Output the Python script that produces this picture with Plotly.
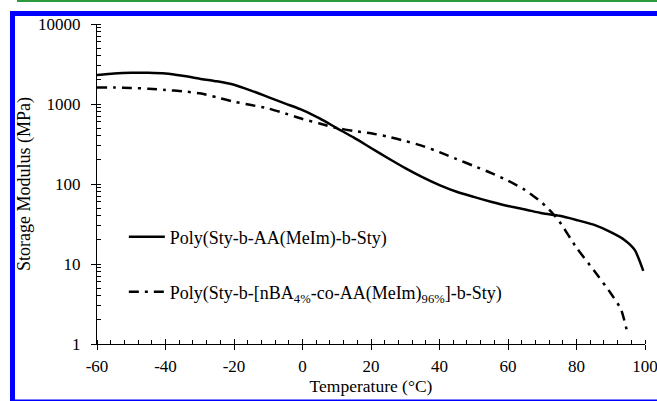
import plotly.graph_objects as go

# Temperature (°C) and storage modulus (MPa)
temp_a = [-60, -55, -50, -45, -40, -35, -30, -25, -20, -15, -10, -5, 0, 5, 10, 15, 20, 25, 30, 35, 40,
          45, 50, 55, 60, 65, 70, 75, 80, 85, 90, 94, 97, 99.5]
mod_a = [2300, 2400, 2450, 2450, 2400, 2250, 2070, 1920, 1740, 1470, 1220, 1010, 840, 660, 500, 380,
         282, 210, 158, 122, 97, 80, 69, 60, 53, 48, 43, 40, 35.5, 31, 25, 20, 15, 8.2]

temp_b = [-60, -55, -50, -45, -40, -35, -30, -25, -20, -15, -10, -5, 0, 5, 10, 15, 20, 25, 30, 35, 40,
          45, 50, 55, 60, 65, 70, 73, 75, 80, 85, 90, 93, 95]
mod_b = [1610, 1610, 1590, 1550, 1500, 1440, 1360, 1210, 1070, 970, 880, 760, 650, 570, 500, 460,
         430, 390, 345, 300, 250, 205, 168, 138, 110, 84, 58, 43, 34, 16, 8.4, 4.3, 2.7, 1.3]

name_a = "Poly(Sty-b-AA(MeIm)-b-Sty)"
name_b = "Poly(Sty-b-[nBA<sub>4%</sub>-co-AA(MeIm)<sub>96%</sub>]-b-Sty)"

x_ticks = [-60, -40, -20, 0, 20, 40, 60, 80, 100]
y_ticks = [1, 10, 100, 1000, 10000]

FONT = "Liberation Serif, serif"

fig = go.Figure()
fig.add_trace(go.Scatter(x=temp_a, y=mod_a, mode="lines", name=name_a,
                         line=dict(color="black", width=2.5, shape="spline", smoothing=0.6),
                         legend="legend"))
fig.add_trace(go.Scatter(x=temp_b, y=mod_b, mode="lines", name=name_b,
                         line=dict(color="black", width=2.5, dash="10px,6px,3px,6px",
                                   shape="spline", smoothing=0.6),
                         legend="legend2"))

# overlay axis for inward halves of major x ticks
fig.add_trace(go.Scatter(x=[None], y=[None], xaxis="x2", showlegend=False))

fig.update_layout(
    width=657, height=401,
    margin=dict(l=97, r=12, t=24, b=57, autoexpand=False),
    paper_bgcolor="white", plot_bgcolor="white",
    font=dict(family=FONT, size=17, color="black"),
    xaxis=dict(range=[-60, 100], tickvals=x_ticks, ticktext=[str(v) for v in x_ticks],
               showline=True, linecolor="black", linewidth=1, showgrid=False, zeroline=False,
               ticks="outside", ticklen=5, tickcolor="black", tickwidth=1, automargin=False,
               ticklabelstandoff=2, ticklabeloverflow="allow",
               minor=dict(ticks="inside", dtick=4, tick0=-60, ticklen=4, tickcolor="black", showgrid=False),
               title=dict(text="Temperature (°C)", standoff=2, font=dict(family=FONT, size=17.5)),
               tickfont=dict(family=FONT, size=17)),
    xaxis2=dict(range=[-60, 100], overlaying="x", side="bottom", tickvals=x_ticks, automargin=False,
                showticklabels=False, ticks="inside", ticklen=5, tickcolor="black",
                showline=False, showgrid=False, zeroline=False),
    yaxis=dict(type="log", range=[0, 4], tickvals=y_ticks, ticktext=[str(v) for v in y_ticks],
               showline=True, linecolor="black", linewidth=1, showgrid=False, zeroline=False,
               ticks="outside", ticklen=5, tickcolor="black", automargin=False,
               ticklabelstandoff=7, ticklabeloverflow="allow",
               minor=dict(ticks="inside", ticklen=4, tickcolor="black", dtick="D1", showgrid=False),
               title=dict(text="Storage Modulus (MPa)", standoff=2, font=dict(family=FONT, size=18)),
               tickfont=dict(family=FONT, size=17)),
    legend=dict(x=0.049, y=0.334, xanchor="left", yanchor="middle", bgcolor="rgba(0,0,0,0)",
                font=dict(family=FONT, size=18), itemwidth=36),
    legend2=dict(x=0.049, y=0.1625, xanchor="left", yanchor="middle", bgcolor="rgba(0,0,0,0)",
                 font=dict(family=FONT, size=18), itemwidth=36),
    showlegend=True,
    shapes=[
        dict(type="rect", xref="paper", yref="paper", x0=-80/548, x1=1 + 12/548,
             y0=1 + 22/320, y1=1 + 24.5/320, fillcolor="#2e9a3e", line=dict(width=0), layer="above"),
        dict(type="rect", xref="paper", yref="paper", x0=-87/548, x1=1 + 12/548,
             y0=1 + 8/320, y1=1 + 13/320, fillcolor="#0000ff", line=dict(width=0), layer="above"),
        dict(type="rect", xref="paper", yref="paper", x0=-87/548, x1=-82/548,
             y0=-56/320, y1=1 + 13/320, fillcolor="#0000ff", line=dict(width=0), layer="above"),
        dict(type="rect", xref="paper", yref="paper", x0=-87/548, x1=1 + 12/548,
             y0=-57/320, y1=-55.5/320, fillcolor="#0000ff", line=dict(width=0), layer="above"),
    ],
)

html = fig.to_html(full_html=True, include_plotlyjs=True, config={"displayModeBar": False})
html = html.replace("<head>", "<head><style>html,body{margin:0;padding:0;overflow:hidden;}</style>", 1)
with open("out.html", "w", encoding="utf-8") as f:
    f.write(html)
